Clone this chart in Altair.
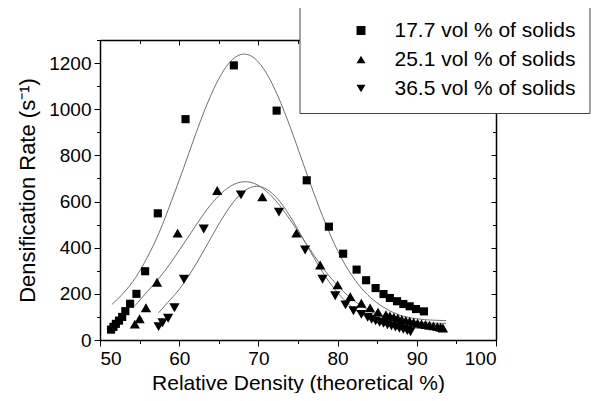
import altair as alt
import pandas as pd

series_names = ["17.7 vol % of solids", "25.1 vol % of solids", "36.5 vol % of solids"]

# measured points
sq_x = [51.4, 51.7, 52.0, 52.4, 52.8, 53.2, 53.8, 54.6, 55.7, 57.3, 60.8, 66.9, 72.3, 76.1, 78.9,
        80.7, 82.4, 83.6, 84.8, 85.8, 86.6, 87.5, 88.3, 89.1, 89.9, 90.9]
sq_y = [45, 57, 70, 84, 100, 125, 157, 200, 298, 549, 957, 1190, 994, 692, 491,
        374, 305, 259, 225, 199, 182, 168, 156, 146, 134, 124]

tu_x = [54.4, 55.0, 55.8, 57.2, 59.8, 64.8, 70.5, 74.8, 77.8, 80.0, 81.6, 83.0, 84.1, 85.1, 86.1,
        86.6, 87.1, 87.6, 88.1, 88.6, 89.1, 89.6, 90.1, 90.6, 91.1, 91.6, 92.1, 92.6, 93.0, 93.3]
tu_y = [69, 92, 140, 250, 463, 648, 620, 463, 325, 239, 188, 159, 139, 121, 110,
        104, 99, 94, 89, 85, 81, 77, 73, 70, 67, 64, 61, 58, 55, 52]

td_x = [57.4, 57.9, 58.6, 59.4, 60.6, 63.1, 67.8, 72.6, 75.9, 78.1, 79.7, 81.0, 82.0, 83.0, 83.8,
        84.3, 84.8, 85.3, 85.8, 86.3, 86.8, 87.3, 87.8, 88.3, 88.8, 89.2]
td_y = [58, 75, 94, 140, 263, 481, 629, 554, 390, 263, 192, 152, 127, 111, 98,
        90, 83, 77, 72, 66, 61, 56, 51, 46, 41, 36]

# fitted curves
c1_x = [51.5, 53.0, 54.5, 56.0, 57.5, 59.0, 60.5, 62.0, 63.5, 65.0, 66.5, 68.2, 69.5, 71.0,
        72.5, 74.0, 75.5, 77.0, 78.5, 80.0, 81.5, 83.0, 84.5, 86.0, 88.0, 90.0, 92.0, 93.7]
c1_y = [154, 205, 271, 360, 468, 600, 740, 885, 1020, 1132, 1208, 1239, 1221, 1157,
        1054, 924, 780, 636, 503, 387, 295, 225, 174, 138, 106, 92, 86, 84]

c2_x = [54.4, 56.0, 57.5, 59.0, 60.5, 62.0, 63.5, 65.0, 66.5, 68.3, 69.5, 71.0, 72.5,
        74.0, 75.5, 77.0, 78.5, 80.0, 81.5, 83.0, 84.5, 86.0, 88.0, 90.0, 92.0, 93.7]
c2_y = [148, 211, 270, 338, 414, 491, 565, 625, 667, 686, 678, 645, 591,
        521, 445, 368, 296, 236, 186, 148, 119, 99, 84, 77, 73, 72]

c3_x = [57.4, 58.5, 60.0, 61.5, 63.0, 64.5, 66.0, 67.5, 69.0, 69.8, 71.0, 72.5, 74.0,
        75.5, 77.0, 78.5, 80.0, 81.5, 83.0, 84.5, 86.0, 88.0, 90.0, 92.0, 93.7]
c3_y = [118, 161, 219, 294, 381, 472, 557, 624, 661, 666, 654, 609, 536,
        448, 357, 273, 205, 152, 113, 87, 70, 58, 52, 49, 48]

x_major = [50, 60, 70, 80, 90, 100]
x_minor = [55, 65, 75, 85, 95]
y_major = [0, 200, 400, 600, 800, 1000, 1200]
y_minor = [100, 300, 500, 700, 900, 1100, 1300]

sq_df = pd.DataFrame({"series": series_names[0], "x": sq_x, "y": sq_y})
tri_df = pd.concat([
    pd.DataFrame({"series": series_names[1], "x": tu_x, "y": tu_y}),
    pd.DataFrame({"series": series_names[2], "x": td_x, "y": td_y}),
], ignore_index=True)
pts = pd.concat([sq_df, tri_df], ignore_index=True)

lines = pd.concat([
    pd.DataFrame({"series": series_names[0], "x": c1_x, "y": c1_y}),
    pd.DataFrame({"series": series_names[1], "x": c2_x, "y": c2_y}),
    pd.DataFrame({"series": series_names[2], "x": c3_x, "y": c3_y}),
], ignore_index=True)
lines["order"] = range(len(lines))

W, H = 396, 300
FONT = "Liberation Sans"
xs = alt.Scale(domain=[50, 100], nice=False, zero=False)
ys = alt.Scale(domain=[0, 1300], nice=False)

common = dict(labelFont=FONT, titleFont=FONT, labelColor="black", titleColor="black",
              tickColor="black", domainColor="black", grid=False)

x_main = alt.Axis(values=x_major, orient="bottom", tickSize=6, tickWidth=1, domainWidth=1.5,
                  labelFontSize=19, labelPadding=3, title="Relative Density (theoretical %)",
                  titleFontSize=21, titleFontWeight="normal", titlePadding=4, format="d", **common)
y_main = alt.Axis(values=y_major, orient="left", tickSize=6, tickWidth=1, domainWidth=1.5,
                  labelFontSize=19, labelPadding=3, title="Densification Rate (s⁻¹)",
                  titleFontSize=22, titleFontWeight="normal", titlePadding=9, format="d", **common)
x_min_b = alt.Axis(values=x_minor, orient="bottom", tickSize=3.5, labels=False, domain=False,
                   title=None, **common)
y_min_l = alt.Axis(values=y_minor, orient="left", tickSize=3.5, labels=False, domain=False,
                   title=None, **common)
x_top = alt.Axis(values=x_major, orient="bottom", offset=-H, tickSize=5, labels=False,
                 domain=True, domainWidth=1.5, title=None, **common)
y_right = alt.Axis(values=y_major, orient="left", offset=-W, tickSize=5, labels=False,
                   domain=True, domainWidth=1.5, title=None, **common)
x_top_min = alt.Axis(values=x_minor, orient="bottom", offset=-H, tickSize=3.5, labels=False,
                     domain=False, title=None, **common)
y_right_min = alt.Axis(values=y_minor, orient="left", offset=-W, tickSize=3.5, labels=False,
                       domain=False, title=None, **common)

shape_scale = alt.Scale(domain=series_names, range=["square", "triangle-up", "triangle-down"])
legend = alt.Legend(title=None, orient="none", legendX=199.5, legendY=-34,
                    strokeColor="#444", fillColor="white", padding=14,
                    labelFont=FONT, labelFontSize=21, labelColor="black", labelLimit=400,
                    symbolSize=80, symbolFillColor="black", symbolStrokeColor="black",
                    symbolOffset=37, labelOffset=23, rowPadding=7,
                    labelExpr="datum.label + '\u00a0\u00a0\u00a0'")

squares = alt.Chart(sq_df).mark_point(filled=True, color="black", opacity=1, size=66).encode(
    x=alt.X("x:Q", scale=xs, axis=x_main),
    y=alt.Y("y:Q", scale=ys, axis=y_main),
    shape=alt.Shape("series:N", scale=shape_scale, legend=legend),
)
triangles = alt.Chart(tri_df).mark_point(filled=True, color="black", opacity=1, size=105).encode(
    x=alt.X("x:Q", scale=xs, axis=None),
    y=alt.Y("y:Q", scale=ys, axis=None),
    shape=alt.Shape("series:N", scale=shape_scale, legend=legend),
)

curves = alt.Chart(lines).mark_line(color="#707070", strokeWidth=1, interpolate="monotone").encode(
    x=alt.X("x:Q", scale=xs, axis=x_min_b),
    y=alt.Y("y:Q", scale=ys, axis=y_min_l),
    detail="series:N",
    order="order:Q",
)

frame1 = alt.Chart(pts).mark_point(opacity=0, size=1).encode(
    x=alt.X("x:Q", scale=xs, axis=x_top),
    y=alt.Y("y:Q", scale=ys, axis=y_right),
)
frame2 = alt.Chart(pts).mark_point(opacity=0, size=1).encode(
    x=alt.X("x:Q", scale=xs, axis=x_top_min),
    y=alt.Y("y:Q", scale=ys, axis=y_right_min),
)

chart = alt.layer(curves, squares, triangles, frame1, frame2).resolve_axis(
    x="independent", y="independent"
).properties(
    width=W, height=H,
    autosize=alt.AutoSizeParams(type="none"),
    padding={"left": 92, "top": 32, "right": 109, "bottom": 53},
).configure_view(stroke=None).configure(background="white")

chart.save("out.html", embed_options={"renderer": "svg", "actions": False})
